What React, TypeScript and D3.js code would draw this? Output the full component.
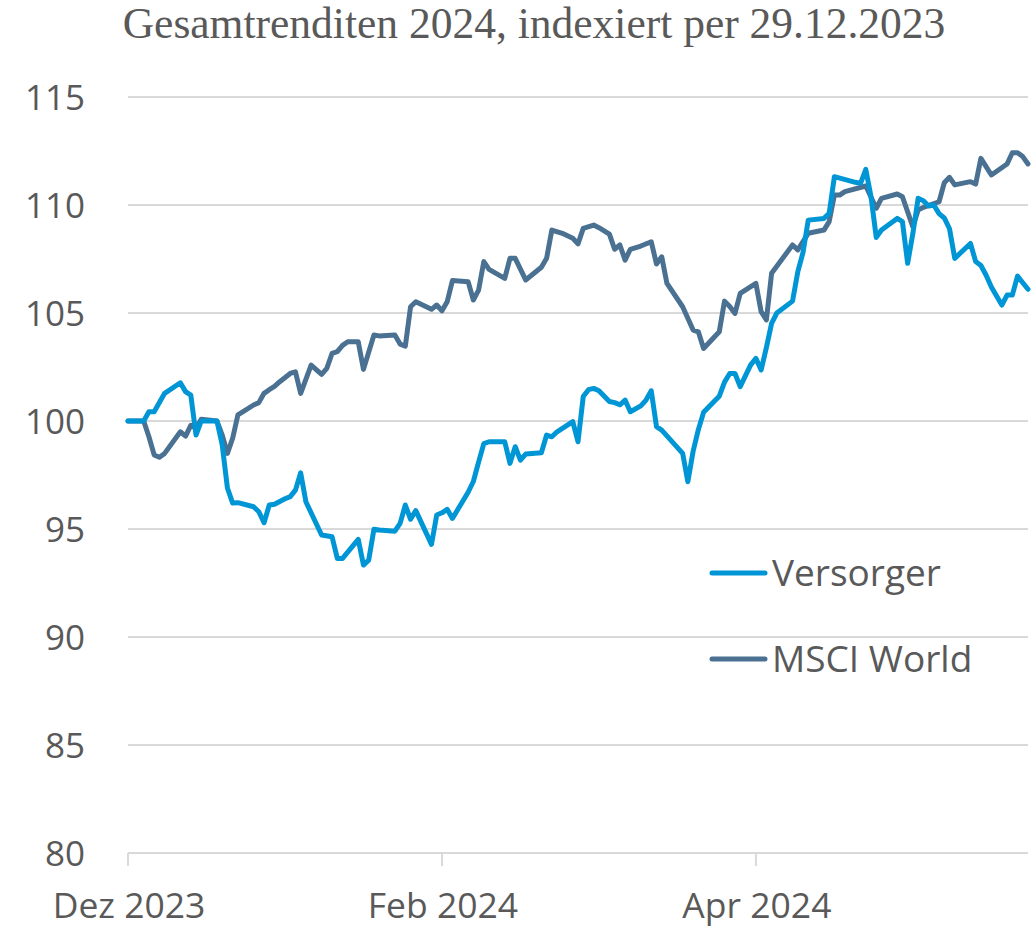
import React from "react";
import * as d3 from "d3";

const title = "Gesamtrenditen 2024, indexiert per 29.12.2023";
const startDate = new Date(2023, 11, 29);
const endDay = 172;

const seriesNames = ["Versorger", "MSCI World"];
const seriesColors = ["#0096D6", "#4A7092"];

// day offsets from 29.12.2023 and index values
const versorgerDays = [0, 3, 4, 5, 7, 10, 11, 12, 13, 14, 17, 18, 19, 20, 21, 24, 25, 26, 27, 28, 30, 31, 32, 33, 34, 37, 39, 40, 41, 44, 45, 46, 47, 48, 51, 52, 53, 54, 55, 58, 59, 60, 61, 62, 65, 66, 67, 68, 69, 72, 73, 74, 75, 76, 79, 80, 81, 82, 85, 86, 87, 88, 89, 90, 92, 93, 94, 95, 96, 98, 99, 100, 101, 102, 106, 107, 108, 109, 110, 112, 113, 114, 115, 116, 117, 119, 120, 121, 122, 123, 124, 127, 128, 129, 130, 133, 134, 135, 139, 140, 141, 142, 143, 144, 147, 148, 149, 150, 151, 152, 153, 154, 155, 156, 157, 158, 161, 162, 163, 164, 165, 167, 168, 169, 170, 171, 172];
const versorgerValues = [100, 100, 100.43, 100.43, 101.28, 101.77, 101.36, 101.2, 99.35, 100, 100, 98.9, 96.9, 96.2, 96.22, 96.03, 95.8, 95.29, 96.11, 96.15, 96.4, 96.5, 96.8, 97.6, 96.26, 94.72, 94.64, 93.64, 93.64, 94.52, 93.33, 93.56, 94.99, 94.95, 94.9, 95.26, 96.11, 95.45, 95.85, 94.29, 95.65, 95.75, 95.91, 95.49, 96.7, 97.2, 98.1, 98.95, 99.04, 99.04, 98.04, 98.81, 98.19, 98.47, 98.53, 99.35, 99.27, 99.5, 99.97, 99.04, 101.13, 101.45, 101.51, 101.4, 100.9, 100.85, 100.75, 100.97, 100.43, 100.7, 100.97, 101.4, 99.74, 99.58, 98.5, 97.19, 98.6, 99.6, 100.4, 100.9, 101.15, 101.8, 102.2, 102.2, 101.59, 102.6, 102.9, 102.36, 103.4, 104.52, 105.0, 105.55, 106.9, 107.8, 109.3, 109.38, 109.61, 111.31, 111.05, 111.0, 111.65, 110.38, 108.5, 108.84, 109.38, 109.23, 107.3, 108.69, 110.31, 110.2, 109.95, 110.0, 109.6, 109.4, 108.9, 107.53, 108.22, 107.38, 107.2, 106.75, 106.2, 105.37, 105.83, 105.83, 106.71, 106.4, 106.1];

const msciDays = [0, 3, 4, 5, 6, 7, 10, 11, 12, 13, 14, 17, 18, 19, 20, 21, 22, 24, 25, 26, 27, 28, 29, 31, 32, 33, 35, 37, 38, 39, 40, 41, 42, 44, 45, 47, 48, 51, 52, 53, 54, 55, 58, 59, 60, 61, 62, 65, 66, 67, 68, 69, 72, 73, 74, 76, 79, 80, 81, 83, 85, 86, 87, 89, 90, 92, 93, 94, 95, 96, 98, 100, 101, 102, 103, 106, 108, 109, 110, 113, 114, 115, 116, 117, 120, 121, 122, 123, 127, 128, 130, 133, 134, 135, 136, 137, 141, 143, 144, 147, 148, 150, 151, 152, 155, 156, 157, 158, 161, 162, 163, 165, 168, 169, 170, 171, 172];
const msciValues = [100, 100, 99.27, 98.43, 98.32, 98.5, 99.5, 99.3, 99.8, 99.66, 100.08, 100, 99.35, 98.5, 99.2, 100.28, 100.43, 100.74, 100.85, 101.28, 101.45, 101.6, 101.82, 102.2, 102.28, 101.28, 102.59, 102.16, 102.44, 103.13, 103.21, 103.5, 103.67, 103.67, 102.39, 103.98, 103.94, 103.98, 103.56, 103.47, 105.29, 105.52, 105.17, 105.37, 105.1, 105.52, 106.5, 106.45, 105.6, 106.06, 107.38, 107.02, 106.6, 107.53, 107.53, 106.53, 107.12, 107.53, 108.84, 108.69, 108.46, 108.2, 108.92, 109.07, 108.95, 108.65, 107.95, 108.15, 107.45, 107.95, 108.1, 108.3, 107.27, 107.6, 106.37, 105.29, 104.21, 104.13, 103.36, 104.13, 105.55, 105.3, 104.98, 105.91, 106.37, 105.06, 104.68, 106.84, 108.15, 107.92, 108.69, 108.84, 109.23, 110.46, 110.46, 110.62, 110.88, 109.85, 110.31, 110.51, 110.38, 108.99, 109.77, 109.89, 110.15, 111.03, 111.28, 110.93, 111.08, 110.97, 112.16, 111.39, 111.9, 112.42, 112.42, 112.24, 111.9];

const yTicks = [80, 85, 90, 95, 100, 105, 110, 115];
const xTickDays = [0, 60, 120];
const xTickLabels = ["Dez 2023", "Feb 2024", "Apr 2024"];

const W = 1036;
const H = 929;
const M = { left: 128, right: 1028, top: 97, bottom: 853 };
const textColor = "#595959";
const gridColor = "#D9D9D9";
const sans = "'Open Sans', 'Noto Sans', sans-serif";

export default function App() {
  const dayToDate = (d: number) => d3.timeDay.offset(startDate, d);
  const x = d3.scaleTime().domain([startDate, dayToDate(endDay)]).range([M.left, M.right]);
  const y = d3.scaleLinear().domain([80, 115]).range([M.bottom, M.top]);

  const series = [
    versorgerDays.map((d, i) => ({ date: dayToDate(d), v: versorgerValues[i] })),
    msciDays.map((d, i) => ({ date: dayToDate(d), v: msciValues[i] })),
  ];
  const line = d3
    .line<{ date: Date; v: number }>()
    .x((p) => x(p.date))
    .y((p) => y(p.v));

  const legendY = [573, 659];

  return (
    <svg width={W} height={H} style={{ position: "absolute", left: 0, top: 0, background: "#fff" }}>
      <rect x={0} y={0} width={W} height={H} fill="#fff" />
      <text x={534} y={38} textAnchor="middle" fontFamily="'Liberation Serif', 'DejaVu Serif', serif" fontSize={43.5} fill={textColor}>
        {title}
      </text>
      {yTicks.map((t) => (
        <g key={t}>
          <line x1={M.left} x2={M.right} y1={y(t)} y2={y(t)} stroke={gridColor} strokeWidth={2} />
          <text x={85} y={y(t) + 12.5} textAnchor="end" fontFamily={sans} fontSize={35} fill={textColor}>
            {t}
          </text>
        </g>
      ))}
      {xTickDays.map((d, i) => (
        <g key={d}>
          <line x1={x(dayToDate(d))} x2={x(dayToDate(d))} y1={M.bottom} y2={M.bottom + 13} stroke={gridColor} strokeWidth={2} />
          <text x={x(dayToDate(d)) + 1} y={918} textAnchor="middle" fontFamily={sans} fontSize={35.5} fill={textColor}>
            {xTickLabels[i]}
          </text>
        </g>
      ))}
      {[1, 0].map((si) => (
        <path key={si} d={line(series[si]) || ""} fill="none" stroke={seriesColors[si]} strokeWidth={5} strokeLinejoin="round" strokeLinecap="round" />
      ))}
      {seriesNames.map((n, i) => (
        <g key={n}>
          <line x1={712} x2={765} y1={legendY[i]} y2={legendY[i]} stroke={seriesColors[i]} strokeWidth={5} strokeLinecap="round" />
          <text x={772} y={legendY[i] + 13} fontFamily={sans} fontSize={37} fill={textColor}>
            {n}
          </text>
        </g>
      ))}
    </svg>
  );
}
